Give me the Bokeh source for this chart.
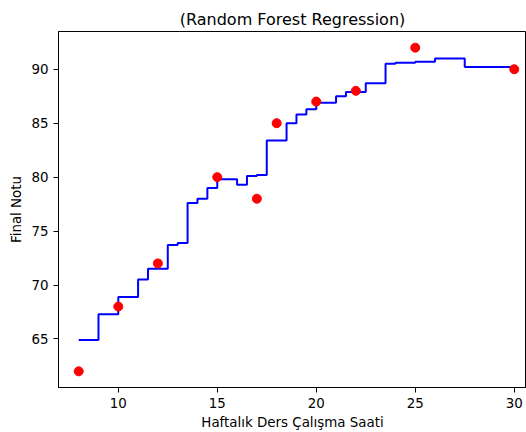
from bokeh.plotting import figure
from bokeh.models import FixedTicker, Range1d
from bokeh.embed import file_html
from bokeh.resources import INLINE

# Observed data points
hours = [8, 10, 12, 15, 17, 18, 20, 22, 25, 30]
grades = [62, 68, 72, 80, 78, 85, 87, 88, 92, 90]

# Random forest prediction (step curve)
pred_x = [8, 9, 10, 11, 11.5, 12.5, 13, 13.5, 14, 14.5, 15, 16, 16.5, 17, 17.5,
          18.5, 19, 19.5, 20, 21, 21.5, 22.5, 23.5, 24, 25, 26, 27.5, 30]
pred_y = [64.9, 67.3, 68.9, 70.5, 71.5, 73.7, 73.9, 77.6, 78.0, 79.0, 79.8, 79.3,
          80.1, 80.2, 83.4, 85.0, 85.8, 86.3, 86.9, 87.5, 87.9, 88.7, 90.5, 90.6,
          90.7, 91.0, 90.2, 90.2]

x_ticks = [10, 15, 20, 25, 30]
y_ticks = [65, 70, 75, 80, 85, 90]

FONT = "DejaVu Sans"

p = figure(width=526, height=432, output_backend="svg", toolbar_location=None,
           x_range=Range1d(6.98, 30.62), y_range=Range1d(60.5, 93.5),
           min_border_left=58, min_border_right=0, min_border_top=31,
           min_border_bottom=44)

p.step(pred_x, pred_y, mode="after", line_color="#0000ff", line_width=2)
p.scatter(hours, grades, size=9, fill_color="#ff0000", line_color="#ff0000")

p.title.text = "(Random Forest Regression)"
p.title.align = "center"
p.title.text_font = FONT
p.title.text_font_size = "16px"
p.title.text_font_style = "normal"
p.title.text_color = "black"
p.title.standoff = 5

p.xgrid.grid_line_color = None
p.ygrid.grid_line_color = None
p.outline_line_color = "black"
p.outline_line_width = 1

for ax, ticks in ((p.xaxis[0], x_ticks), (p.yaxis[0], y_ticks)):
    ax.ticker = FixedTicker(ticks=ticks)
    ax.minor_tick_line_color = None
    ax.major_tick_in = 0
    ax.major_tick_out = 5
    ax.major_tick_line_color = "black"
    ax.axis_line_color = "black"
    ax.major_label_text_font = FONT
    ax.major_label_text_font_size = "13.4px"
    ax.major_label_text_color = "black"
    ax.major_label_standoff = 5
    ax.axis_label_text_font = FONT
    ax.axis_label_text_font_size = "13.4px"
    ax.axis_label_text_font_style = "normal"
    ax.axis_label_text_color = "black"

p.xaxis.axis_label = "Haftalık Ders Çalışma Saati"
p.yaxis.axis_label = "Final Notu"
p.xaxis.axis_label_standoff = 4
p.yaxis.axis_label_standoff = 4
p.yaxis.major_label_orientation = "horizontal"

open("out.html", "w").write(file_html(p, INLINE))
